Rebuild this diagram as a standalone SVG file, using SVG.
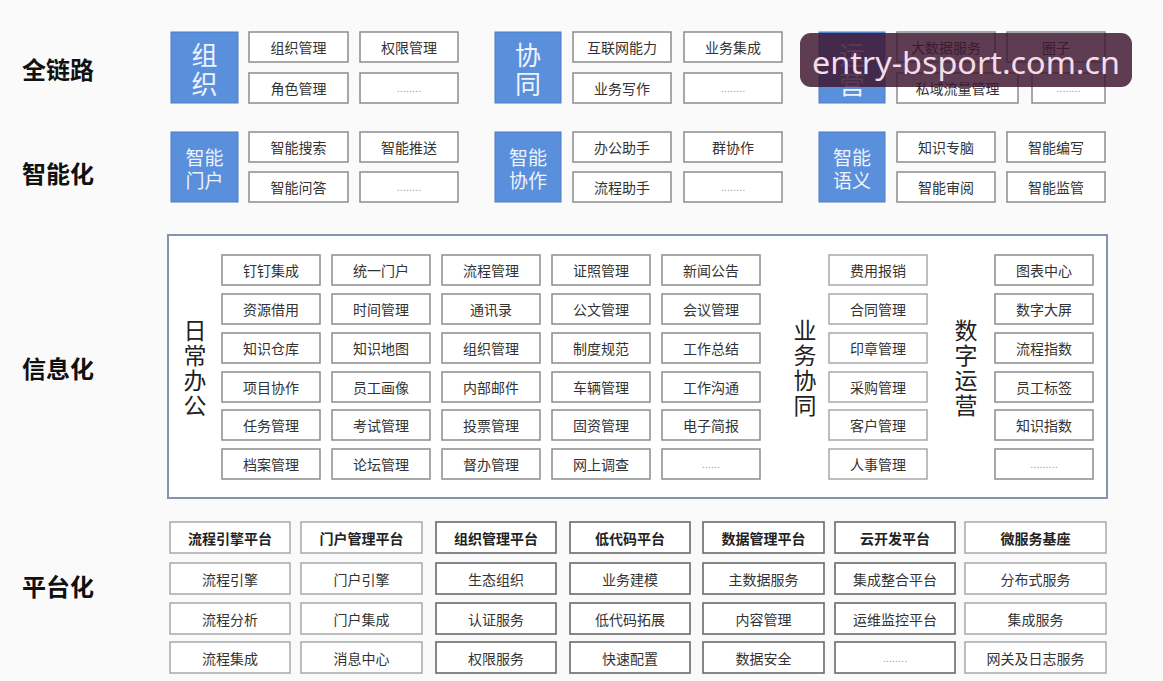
<svg xmlns="http://www.w3.org/2000/svg" width="1163" height="681" viewBox="0 0 1163 681">
<style>
.bg{fill:#fafafa}
.b{fill:#fff;stroke:#8c8c8c;stroke-width:1.5}
.bl{fill:#fff;stroke:#a8a8a8;stroke-width:1.5}
.bd{fill:#fff;stroke:#6a6a6a;stroke-width:1.6}
.blue{fill:#5a8fdc;stroke:#4b7cc6;stroke-width:1}
.frame{fill:#fff;stroke:#8593ab;stroke-width:2}
.t{font-family:"Noto Sans CJK SC","Noto Sans",sans-serif;font-size:14px;fill:#333;text-anchor:middle;dominant-baseline:central}
.th{font-family:"Noto Sans CJK SC","Noto Sans",sans-serif;font-size:14px;font-weight:bold;fill:#222;text-anchor:middle;dominant-baseline:central}
.dots{font-family:"Liberation Sans",sans-serif;font-size:11px;fill:#9a9a9a;text-anchor:middle;dominant-baseline:central}
.lab{font-family:"Noto Sans CJK SC",sans-serif;font-size:24px;font-weight:bold;fill:#111;dominant-baseline:central}
.bt1{font-family:"Noto Sans CJK SC",sans-serif;font-size:26px;fill:#eef3fc;text-anchor:middle;dominant-baseline:central}
.bt2{font-family:"Noto Sans CJK SC",sans-serif;font-size:19px;fill:#eef3fc;text-anchor:middle;dominant-baseline:central}
.vt{font-family:"Noto Sans CJK SC",sans-serif;font-size:23px;fill:#222;text-anchor:middle;dominant-baseline:central}
.wm{fill:#3f1730;fill-opacity:0.84}
.wmt{font-family:"Noto Sans","DejaVu Sans",sans-serif;font-size:31px;fill:#f4dce9;text-anchor:middle;dominant-baseline:central}
</style>
<rect class="bg" x="0" y="0" width="1163" height="681"/>

<!-- layer labels -->
<g id="label-quanlianlu"><text class="lab" x="22" y="68">全链路</text></g>
<g id="label-zhinenghua"><text class="lab" x="22" y="172">智能化</text></g>
<g id="label-xinxihua"><text class="lab" x="22" y="367">信息化</text></g>
<g id="label-pingtaihua"><text class="lab" x="22" y="585">平台化</text></g>

<!-- Row 1: 全链路 -->
<g id="zuzhi"><rect class="blue" x="171" y="32" width="67" height="71"/><text class="bt1" x="204.5" y="53">组</text><text class="bt1" x="204.5" y="82">织</text></g>
<g id="zuzhiguanli"><rect class="b" x="249" y="32" width="99" height="30"/><text class="t" x="298.5" y="47">组织管理</text></g>
<g id="quanxianguanli"><rect class="b" x="360" y="32" width="98" height="30"/><text class="t" x="409" y="47">权限管理</text></g>
<g id="jueseguanli"><rect class="b" x="249" y="73" width="99" height="30"/><text class="t" x="298.5" y="88">角色管理</text></g>
<g id="zuzhi-more"><rect class="b" x="360" y="73" width="98" height="30"/><text class="dots" x="409" y="88">........</text></g>

<g id="xietong"><rect class="blue" x="495" y="32" width="66" height="71"/><text class="bt1" x="528" y="53">协</text><text class="bt1" x="528" y="82">同</text></g>
<g id="hulianwang"><rect class="b" x="573" y="32" width="98" height="30"/><text class="t" x="622" y="47">互联网能力</text></g>
<g id="yewujicheng"><rect class="b" x="684" y="32" width="98" height="30"/><text class="t" x="733" y="47">业务集成</text></g>
<g id="yewuxiezuo"><rect class="b" x="573" y="73" width="98" height="30"/><text class="t" x="622" y="88">业务写作</text></g>
<g id="xietong-more"><rect class="b" x="684" y="73" width="98" height="30"/><text class="dots" x="733" y="88">........</text></g>

<g id="yunying"><rect class="blue" x="819" y="32" width="66" height="71"/><text class="bt1" x="852" y="53">运</text><text class="bt1" x="852" y="82">营</text></g>
<g id="dashuju"><rect class="b" x="897" y="32" width="98" height="30"/><text class="t" x="946" y="47">大数据服务</text></g>
<g id="quanzi"><rect class="b" x="1007" y="32" width="98" height="30"/><text class="t" x="1056" y="47">圈子</text></g>
<g id="siyu"><rect class="b" x="897" y="73" width="121" height="30"/><text class="t" x="957.5" y="88">私域流量管理</text></g>
<g id="yunying-more"><rect class="b" x="1032" y="73" width="73" height="30"/><text class="dots" x="1068.5" y="88">........</text></g>

<!-- Row 2: 智能化 -->
<g id="zhinengmenhu"><rect class="blue" x="171" y="132" width="67" height="70"/><text class="bt2" x="204.5" y="156">智能</text><text class="bt2" x="204.5" y="179">门户</text></g>
<g id="zhinengsousuo"><rect class="b" x="249" y="132" width="99" height="30"/><text class="t" x="298.5" y="147">智能搜索</text></g>
<g id="zhinengtuisong"><rect class="b" x="360" y="132" width="98" height="30"/><text class="t" x="409" y="147">智能推送</text></g>
<g id="zhinengwenda"><rect class="b" x="249" y="172" width="99" height="30"/><text class="t" x="298.5" y="187">智能问答</text></g>
<g id="menhu-more"><rect class="b" x="360" y="172" width="98" height="30"/><text class="dots" x="409" y="187">........</text></g>

<g id="zhinengxiezuo"><rect class="blue" x="495" y="132" width="66" height="70"/><text class="bt2" x="528" y="156">智能</text><text class="bt2" x="528" y="179">协作</text></g>
<g id="bangongzhushou"><rect class="b" x="573" y="132" width="98" height="30"/><text class="t" x="622" y="147">办公助手</text></g>
<g id="qunxiezuo"><rect class="b" x="684" y="132" width="98" height="30"/><text class="t" x="733" y="147">群协作</text></g>
<g id="liuchengzhushou"><rect class="b" x="573" y="172" width="98" height="30"/><text class="t" x="622" y="187">流程助手</text></g>
<g id="xiezuo-more"><rect class="b" x="684" y="172" width="98" height="30"/><text class="dots" x="733" y="187">........</text></g>

<g id="zhinengyuyi"><rect class="blue" x="819" y="132" width="66" height="70"/><text class="bt2" x="852" y="156">智能</text><text class="bt2" x="852" y="179">语义</text></g>
<g id="zhishizhuannao"><rect class="b" x="897" y="132" width="98" height="30"/><text class="t" x="946" y="147">知识专脑</text></g>
<g id="zhinengbianxie"><rect class="b" x="1007" y="132" width="98" height="30"/><text class="t" x="1056" y="147">智能编写</text></g>
<g id="zhinengshenyue"><rect class="b" x="897" y="172" width="98" height="30"/><text class="t" x="946" y="187">智能审阅</text></g>
<g id="zhinengjianguan"><rect class="b" x="1007" y="172" width="98" height="30"/><text class="t" x="1056" y="187">智能监管</text></g>

<!-- Row 3: 信息化 -->
<g id="xinxihua-frame"><rect class="frame" x="168" y="235" width="939" height="263"/></g>
<g id="richangbangong-label"><text class="vt" x="195" y="329">日</text><text class="vt" x="195" y="354">常</text><text class="vt" x="195" y="379">办</text><text class="vt" x="195" y="404">公</text></g>
<g id="yewuxietong-label"><text class="vt" x="805" y="329">业</text><text class="vt" x="805" y="354">务</text><text class="vt" x="805" y="379">协</text><text class="vt" x="805" y="404">同</text></g>
<g id="shuziyunying-label"><text class="vt" x="966" y="329">数</text><text class="vt" x="966" y="354">字</text><text class="vt" x="966" y="379">运</text><text class="vt" x="966" y="404">营</text></g>

<g id="rc-1-1"><rect class="b" x="222" y="255" width="98" height="30"/><text class="t" x="271" y="270">钉钉集成</text></g>
<g id="rc-1-2"><rect class="b" x="332" y="255" width="98" height="30"/><text class="t" x="381" y="270">统一门户</text></g>
<g id="rc-1-3"><rect class="b" x="442" y="255" width="98" height="30"/><text class="t" x="491" y="270">流程管理</text></g>
<g id="rc-1-4"><rect class="b" x="552" y="255" width="98" height="30"/><text class="t" x="601" y="270">证照管理</text></g>
<g id="rc-1-5"><rect class="b" x="662" y="255" width="98" height="30"/><text class="t" x="711" y="270">新闻公告</text></g>

<g id="rc-2-1"><rect class="b" x="222" y="294" width="98" height="30"/><text class="t" x="271" y="309">资源借用</text></g>
<g id="rc-2-2"><rect class="b" x="332" y="294" width="98" height="30"/><text class="t" x="381" y="309">时间管理</text></g>
<g id="rc-2-3"><rect class="b" x="442" y="294" width="98" height="30"/><text class="t" x="491" y="309">通讯录</text></g>
<g id="rc-2-4"><rect class="b" x="552" y="294" width="98" height="30"/><text class="t" x="601" y="309">公文管理</text></g>
<g id="rc-2-5"><rect class="b" x="662" y="294" width="98" height="30"/><text class="t" x="711" y="309">会议管理</text></g>

<g id="rc-3-1"><rect class="b" x="222" y="333" width="98" height="30"/><text class="t" x="271" y="348">知识仓库</text></g>
<g id="rc-3-2"><rect class="b" x="332" y="333" width="98" height="30"/><text class="t" x="381" y="348">知识地图</text></g>
<g id="rc-3-3"><rect class="b" x="442" y="333" width="98" height="30"/><text class="t" x="491" y="348">组织管理</text></g>
<g id="rc-3-4"><rect class="b" x="552" y="333" width="98" height="30"/><text class="t" x="601" y="348">制度规范</text></g>
<g id="rc-3-5"><rect class="b" x="662" y="333" width="98" height="30"/><text class="t" x="711" y="348">工作总结</text></g>

<g id="rc-4-1"><rect class="b" x="222" y="372" width="98" height="30"/><text class="t" x="271" y="387">项目协作</text></g>
<g id="rc-4-2"><rect class="b" x="332" y="372" width="98" height="30"/><text class="t" x="381" y="387">员工画像</text></g>
<g id="rc-4-3"><rect class="b" x="442" y="372" width="98" height="30"/><text class="t" x="491" y="387">内部邮件</text></g>
<g id="rc-4-4"><rect class="b" x="552" y="372" width="98" height="30"/><text class="t" x="601" y="387">车辆管理</text></g>
<g id="rc-4-5"><rect class="b" x="662" y="372" width="98" height="30"/><text class="t" x="711" y="387">工作沟通</text></g>

<g id="rc-5-1"><rect class="b" x="222" y="410" width="98" height="30"/><text class="t" x="271" y="425">任务管理</text></g>
<g id="rc-5-2"><rect class="b" x="332" y="410" width="98" height="30"/><text class="t" x="381" y="425">考试管理</text></g>
<g id="rc-5-3"><rect class="b" x="442" y="410" width="98" height="30"/><text class="t" x="491" y="425">投票管理</text></g>
<g id="rc-5-4"><rect class="b" x="552" y="410" width="98" height="30"/><text class="t" x="601" y="425">固资管理</text></g>
<g id="rc-5-5"><rect class="b" x="662" y="410" width="98" height="30"/><text class="t" x="711" y="425">电子简报</text></g>

<g id="rc-6-1"><rect class="b" x="222" y="449" width="98" height="30"/><text class="t" x="271" y="464">档案管理</text></g>
<g id="rc-6-2"><rect class="b" x="332" y="449" width="98" height="30"/><text class="t" x="381" y="464">论坛管理</text></g>
<g id="rc-6-3"><rect class="b" x="442" y="449" width="98" height="30"/><text class="t" x="491" y="464">督办管理</text></g>
<g id="rc-6-4"><rect class="b" x="552" y="449" width="98" height="30"/><text class="t" x="601" y="464">网上调查</text></g>
<g id="rc-6-5"><rect class="b" x="662" y="449" width="98" height="30"/><text class="dots" x="711" y="464">......</text></g>

<g id="yw-1"><rect class="bl" x="829" y="255" width="98" height="30"/><text class="t" x="878" y="270">费用报销</text></g>
<g id="yw-2"><rect class="bl" x="829" y="294" width="98" height="30"/><text class="t" x="878" y="309">合同管理</text></g>
<g id="yw-3"><rect class="bl" x="829" y="333" width="98" height="30"/><text class="t" x="878" y="348">印章管理</text></g>
<g id="yw-4"><rect class="bl" x="829" y="372" width="98" height="30"/><text class="t" x="878" y="387">采购管理</text></g>
<g id="yw-5"><rect class="bl" x="829" y="410" width="98" height="30"/><text class="t" x="878" y="425">客户管理</text></g>
<g id="yw-6"><rect class="bl" x="829" y="449" width="98" height="30"/><text class="t" x="878" y="464">人事管理</text></g>

<g id="sz-1"><rect class="b" x="995" y="255" width="98" height="30"/><text class="t" x="1044" y="270">图表中心</text></g>
<g id="sz-2"><rect class="b" x="995" y="294" width="98" height="30"/><text class="t" x="1044" y="309">数字大屏</text></g>
<g id="sz-3"><rect class="b" x="995" y="333" width="98" height="30"/><text class="t" x="1044" y="348">流程指数</text></g>
<g id="sz-4"><rect class="b" x="995" y="372" width="98" height="30"/><text class="t" x="1044" y="387">员工标签</text></g>
<g id="sz-5"><rect class="b" x="995" y="410" width="98" height="30"/><text class="t" x="1044" y="425">知识指数</text></g>
<g id="sz-6"><rect class="b" x="995" y="449" width="98" height="30"/><text class="dots" x="1044" y="464">.........</text></g>

<!-- Row 4: 平台化 -->
<g id="pt-1-h"><rect class="bl" x="170" y="522" width="120" height="31"/><text class="th" x="230" y="537.5">流程引擎平台</text></g>
<g id="pt-1-2"><rect class="bl" x="170" y="563" width="120" height="31"/><text class="t" x="230" y="578.5">流程引擎</text></g>
<g id="pt-1-3"><rect class="bl" x="170" y="603" width="120" height="31"/><text class="t" x="230" y="618.5">流程分析</text></g>
<g id="pt-1-4"><rect class="bl" x="170" y="642" width="120" height="31"/><text class="t" x="230" y="657.5">流程集成</text></g>

<g id="pt-2-h"><rect class="bl" x="301" y="522" width="121" height="31"/><text class="th" x="361.5" y="537.5">门户管理平台</text></g>
<g id="pt-2-2"><rect class="bl" x="301" y="563" width="121" height="31"/><text class="t" x="361.5" y="578.5">门户引擎</text></g>
<g id="pt-2-3"><rect class="bl" x="301" y="603" width="121" height="31"/><text class="t" x="361.5" y="618.5">门户集成</text></g>
<g id="pt-2-4"><rect class="bl" x="301" y="642" width="121" height="31"/><text class="t" x="361.5" y="657.5">消息中心</text></g>

<g id="pt-3-h"><rect class="bd" x="436" y="522" width="120" height="31"/><text class="th" x="496" y="537.5">组织管理平台</text></g>
<g id="pt-3-2"><rect class="bd" x="436" y="563" width="120" height="31"/><text class="t" x="496" y="578.5">生态组织</text></g>
<g id="pt-3-3"><rect class="bd" x="436" y="603" width="120" height="31"/><text class="t" x="496" y="618.5">认证服务</text></g>
<g id="pt-3-4"><rect class="bd" x="436" y="642" width="120" height="31"/><text class="t" x="496" y="657.5">权限服务</text></g>

<g id="pt-4-h"><rect class="bd" x="570" y="522" width="120" height="31"/><text class="th" x="630" y="537.5">低代码平台</text></g>
<g id="pt-4-2"><rect class="bd" x="570" y="563" width="120" height="31"/><text class="t" x="630" y="578.5">业务建模</text></g>
<g id="pt-4-3"><rect class="bd" x="570" y="603" width="120" height="31"/><text class="t" x="630" y="618.5">低代码拓展</text></g>
<g id="pt-4-4"><rect class="bd" x="570" y="642" width="120" height="31"/><text class="t" x="630" y="657.5">快速配置</text></g>

<g id="pt-5-h"><rect class="bd" x="703" y="522" width="121" height="31"/><text class="th" x="763.5" y="537.5">数据管理平台</text></g>
<g id="pt-5-2"><rect class="bd" x="703" y="563" width="121" height="31"/><text class="t" x="763.5" y="578.5">主数据服务</text></g>
<g id="pt-5-3"><rect class="bd" x="703" y="603" width="121" height="31"/><text class="t" x="763.5" y="618.5">内容管理</text></g>
<g id="pt-5-4"><rect class="bd" x="703" y="642" width="121" height="31"/><text class="t" x="763.5" y="657.5">数据安全</text></g>

<g id="pt-6-h"><rect class="bd" x="835" y="522" width="120" height="31"/><text class="th" x="895" y="537.5">云开发平台</text></g>
<g id="pt-6-2"><rect class="bd" x="835" y="563" width="120" height="31"/><text class="t" x="895" y="578.5">集成整合平台</text></g>
<g id="pt-6-3"><rect class="bd" x="835" y="603" width="120" height="31"/><text class="t" x="895" y="618.5">运维监控平台</text></g>
<g id="pt-6-4"><rect class="bd" x="835" y="642" width="120" height="31"/><text class="dots" x="895" y="657.5">........</text></g>

<g id="pt-7-h"><rect class="bl" x="965" y="522" width="141" height="31"/><text class="th" x="1035.5" y="537.5">微服务基座</text></g>
<g id="pt-7-2"><rect class="bl" x="965" y="563" width="141" height="31"/><text class="t" x="1035.5" y="578.5">分布式服务</text></g>
<g id="pt-7-3"><rect class="bl" x="965" y="603" width="141" height="31"/><text class="t" x="1035.5" y="618.5">集成服务</text></g>
<g id="pt-7-4"><rect class="bl" x="965" y="642" width="141" height="31"/><text class="t" x="1035.5" y="657.5">网关及日志服务</text></g>

<g id="connectors"></g>

<!-- watermark overlay -->
<g id="watermark"><rect class="wm" x="800" y="33" width="332" height="54" rx="11"/><text class="wmt" x="966" y="62" textLength="308" lengthAdjust="spacingAndGlyphs">entry-bsport.com.cn</text></g>
</svg>
